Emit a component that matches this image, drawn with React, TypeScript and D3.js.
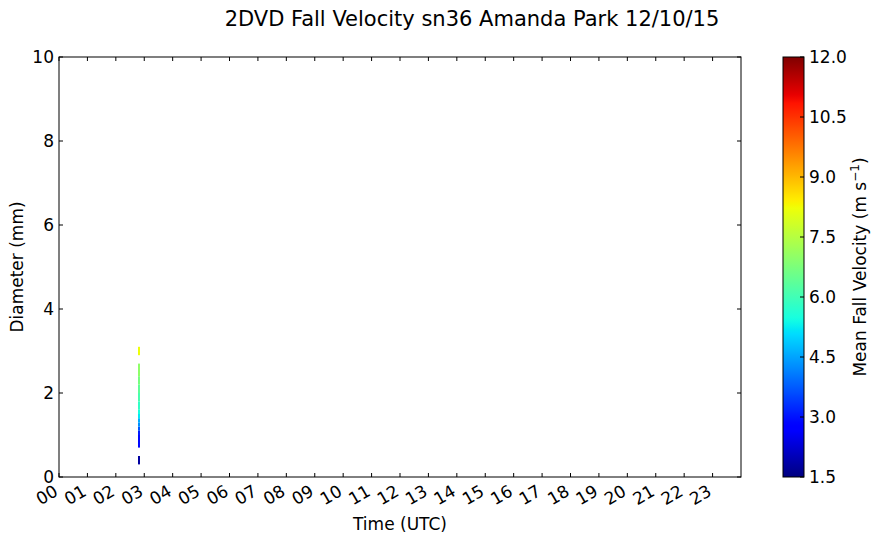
import React from "react";
import * as d3 from "d3";

// ---- data ----
const hourTicks = ["00","01","02","03","04","05","06","07","08","09","10","11","12","13","14","15","16","17","18","19","20","21","22","23"];
const diameterTicks = [0, 2, 4, 6, 8, 10];
const colorbarTicks = [1.5, 3.0, 4.5, 6.0, 7.5, 9.0, 10.5, 12.0];

// time bin of the observed column (hours UTC)
const timeStart = [2.78];
const timeEnd = [2.85];
// diameter bins (mm) and mean fall velocity (m/s)
const diamLow = [0.3, 0.7, 1.0, 1.1, 1.2, 1.3, 1.4, 1.5, 1.6, 1.8, 2.0, 2.2, 2.4, 2.9];
const diamHigh = [0.5, 1.0, 1.1, 1.2, 1.3, 1.4, 1.5, 1.6, 1.8, 2.0, 2.2, 2.4, 2.7, 3.1];
const velocity = [1.8, 2.9, 3.1, 3.7, 4.3, 4.6, 5.2, 5.5, 5.8, 6.1, 6.4, 6.7, 7.0, 8.2];

const W = 884, H = 543;
const M = { left: 59, right: 741, top: 57, bottom: 477 };
const CB = { left: 783, right: 804 };
const FONT = "'DejaVu Sans', sans-serif";
const FS = 17;

// matplotlib "jet" segment data
const jetR: [number, number][] = [[0, 0], [0.35, 0], [0.66, 1], [0.89, 1], [1, 0.5]];
const jetG: [number, number][] = [[0, 0], [0.125, 0], [0.375, 1], [0.64, 1], [0.91, 0], [1, 0]];
const jetB: [number, number][] = [[0, 0.5], [0.11, 1], [0.34, 1], [0.65, 0], [1, 0]];

function seg(pts: [number, number][], t: number): number {
  const s = d3.scaleLinear().domain(pts.map((p) => p[0])).range(pts.map((p) => p[1])).clamp(true);
  return s(t);
}
function jet(t: number): string {
  return d3.rgb(seg(jetR, t) * 255, seg(jetG, t) * 255, seg(jetB, t) * 255).formatHex();
}

export default function App() {
  const x = d3.scaleLinear().domain([0, 24]).range([M.left, M.right]);
  const y = d3.scaleLinear().domain([0, 10]).range([M.bottom, M.top]);
  const cScale = d3.scaleLinear().domain([1.5, 12]).range([M.bottom, M.top]);
  const norm = d3.scaleLinear().domain([1.5, 12]).range([0, 1]).clamp(true);
  const stops = d3.range(0, 1.0001, 0.01);
  const tick = 4;

  const bins = velocity.map((v, i) => ({ lo: diamLow[i], hi: diamHigh[i], v }));

  return (
    <svg width={W} height={H} style={{ position: "absolute", left: 0, top: 0, background: "#fff" }} fontFamily={FONT}>
      <defs>
        <linearGradient id="jetgrad" x1="0" y1="1" x2="0" y2="0">
          {stops.map((s) => (
            <stop key={s} offset={s} stopColor={jet(s)} />
          ))}
        </linearGradient>
      </defs>
      <rect width={W} height={H} fill="#fff" />
      <text x={472} y={26} textAnchor="middle" fontSize={21} fill="#000">2DVD Fall Velocity sn36 Amanda Park 12/10/15</text>

      {/* data */}
      {timeStart.map((t0, k) =>
        bins.map((b, i) => (
          <rect key={`${k}-${i}`} x={x(t0)} width={x(timeEnd[k]) - x(t0)} y={y(b.hi)} height={y(b.lo) - y(b.hi)} fill={jet(norm(b.v))} />
        ))
      )}

      {/* axes frame */}
      <rect x={M.left} y={M.top} width={M.right - M.left} height={M.bottom - M.top} fill="none" stroke="#000" strokeWidth={1} />
      {hourTicks.map((lab, i) => (
        <g key={lab}>
          <line x1={x(i)} x2={x(i)} y1={M.bottom} y2={M.bottom - tick} stroke="#000" />
          <line x1={x(i)} x2={x(i)} y1={M.top} y2={M.top + tick} stroke="#000" />
          <text transform={`translate(${x(i) - 6},${484}) rotate(-30)`} textAnchor="end" dy="0.72em" fontSize={FS} fill="#000">{lab}</text>
        </g>
      ))}
      {diameterTicks.map((d) => (
        <g key={d}>
          <line x1={M.left} x2={M.left + tick} y1={y(d)} y2={y(d)} stroke="#000" />
          <line x1={M.right} x2={M.right - tick} y1={y(d)} y2={y(d)} stroke="#000" />
          <text x={M.left - 5} y={y(d)} dy="0.36em" textAnchor="end" fontSize={FS} fill="#000">{d}</text>
        </g>
      ))}
      <text x={(M.left + M.right) / 2} y={530} textAnchor="middle" fontSize={FS} fill="#000">Time (UTC)</text>
      <text transform={`translate(23,${(M.top + M.bottom) / 2}) rotate(-90)`} textAnchor="middle" fontSize={FS} fill="#000">Diameter (mm)</text>

      {/* colorbar */}
      <rect x={CB.left} y={M.top} width={CB.right - CB.left} height={M.bottom - M.top} fill="url(#jetgrad)" stroke="#000" strokeWidth={1} />
      {colorbarTicks.map((v) => (
        <g key={v}>
          <line x1={CB.right} x2={CB.right - tick} y1={cScale(v)} y2={cScale(v)} stroke="#000" />
          <text x={CB.right + 5} y={cScale(v)} dy="0.36em" fontSize={FS} fill="#000">{v.toFixed(1)}</text>
        </g>
      ))}
      <text transform={`translate(866,${(M.top + M.bottom) / 2}) rotate(-90)`} textAnchor="middle" fontSize={FS} fill="#000">
        Mean Fall Velocity (m s<tspan dy="-7" fontSize={12}>−1</tspan><tspan dy="7">)</tspan>
      </text>
    </svg>
  );
}
